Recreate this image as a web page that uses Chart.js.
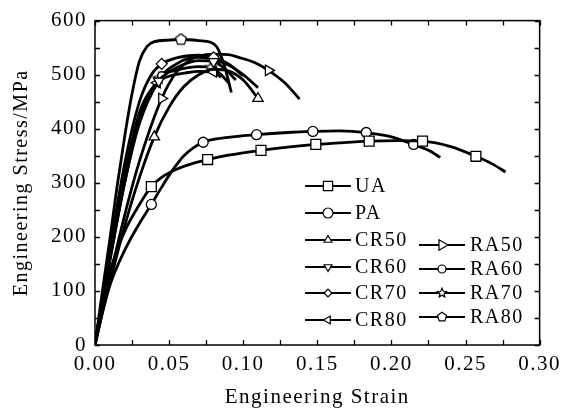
<!DOCTYPE html>
<html>
<head>
<meta charset="utf-8">
<script src="https://cdn.jsdelivr.net/npm/chart.js@4/dist/chart.umd.min.js"></script>
<style>
  html, body { margin: 0; padding: 0; background: #fff; }
  canvas { display: block; }
</style>
</head>
<body>
<canvas id="stressChart" width="565" height="410"></canvas>
<script>
// axis ticks
const strainTicks = [0, 0.05, 0.1, 0.15, 0.2, 0.25, 0.3];
const stressTicks = [0, 100, 200, 300, 400, 500, 600];

// UA
const uaStrain = [0, 0.005, 0.01, 0.02, 0.03, 0.038, 0.045, 0.055, 0.065, 0.076, 0.09, 0.112, 0.13, 0.149, 0.165, 0.185, 0.205, 0.221, 0.24, 0.257, 0.268, 0.277];
const uaStress = [0, 75, 135, 210, 260, 293, 310, 325, 335, 343, 351, 360, 366, 371, 374, 377, 378, 377, 367, 349, 335, 320];
const uaMarks = [0.038, 0.076, 0.112, 0.149, 0.185, 0.221, 0.257];

// PA
const paStrain = [0, 0.005, 0.01, 0.02, 0.03, 0.038, 0.045, 0.052, 0.06, 0.073, 0.09, 0.109, 0.13, 0.147, 0.165, 0.183, 0.2, 0.215, 0.225, 0.233];
const paStress = [0, 60, 110, 175, 225, 260, 292, 322, 350, 375, 384, 389, 393, 395, 396, 393, 385, 371, 360, 347];
const paMarks = [0.038, 0.073, 0.109, 0.147, 0.183, 0.215];

// CR50 .. CR80
const cr50Strain = [0, 0.005, 0.01, 0.02, 0.03, 0.04, 0.05, 0.06, 0.07, 0.08, 0.09, 0.1, 0.11];
const cr50Stress = [0, 60, 115, 220, 310, 385, 440, 478, 500, 510, 507, 490, 456];
const cr50Marks = [0.04, 0.11];

const cr60Strain = [0, 0.005, 0.01, 0.02, 0.03, 0.043, 0.05, 0.063, 0.07, 0.08, 0.088, 0.095];
const cr60Stress = [0, 80, 155, 300, 410, 488, 505, 522, 526, 524, 510, 490];
const cr60Marks = [0.043, 0.08];

const cr70Strain = [0, 0.005, 0.01, 0.02, 0.03, 0.038, 0.045, 0.055, 0.063, 0.07, 0.08, 0.09, 0.1];
const cr70Stress = [0, 90, 175, 335, 450, 500, 520, 531, 535, 536, 532, 520, 498];
const cr70Marks = [0.045, 0.08];

const cr80Strain = [0, 0.005, 0.01, 0.02, 0.03, 0.042, 0.05, 0.063, 0.07, 0.08, 0.085];
const cr80Stress = [0, 85, 165, 315, 430, 485, 497, 504, 506, 505, 495];
const cr80Marks = [0.042, 0.08];

// RA50 .. RA80
const ra50Strain = [0, 0.005, 0.01, 0.02, 0.03, 0.045, 0.055, 0.063, 0.07, 0.08, 0.09, 0.097, 0.108, 0.117, 0.128, 0.138];
const ra50Stress = [0, 65, 125, 240, 340, 456, 505, 525, 534, 538, 537, 532, 522, 508, 485, 455];
const ra50Marks = [0.045, 0.117];

const ra60Strain = [0, 0.005, 0.01, 0.02, 0.03, 0.045, 0.055, 0.063, 0.07, 0.08, 0.09, 0.1, 0.11];
const ra60Stress = [0, 85, 160, 305, 420, 498, 520, 530, 532, 528, 518, 500, 476];
const ra60Marks = [0.045, 0.08];

const ra70Strain = [0, 0.005, 0.01, 0.02, 0.03, 0.043, 0.055, 0.063, 0.07, 0.078, 0.085, 0.09];
const ra70Stress = [0, 82, 158, 300, 415, 493, 508, 513, 515, 513, 500, 485];
const ra70Marks = [0.043, 0.078];

const ra80Strain = [0, 0.005, 0.01, 0.015, 0.02, 0.025, 0.03, 0.035, 0.04, 0.05, 0.058, 0.07, 0.078, 0.082, 0.085, 0.088, 0.092];
const ra80Stress = [0, 100, 195, 295, 385, 465, 525, 552, 561, 564, 565, 563, 560, 552, 535, 510, 467];
const ra80Marks = [0.058];

const FONT = "'Liberation Serif', 'Times New Roman', serif";

// hollow marker shapes the library doesn't have
function shapeCanvas(kind, size) {
  const c = document.createElement("canvas");
  c.width = c.height = size;
  const g = c.getContext("2d");
  const cx = size / 2, cy = size / 2, R = size / 2 - 1.2;
  g.beginPath();
  if (kind === "pentagon") {
    for (let i = 0; i < 5; i++) {
      const a = -Math.PI / 2 + i * 2 * Math.PI / 5;
      g.lineTo(cx + R * Math.cos(a), cy + R * Math.sin(a));
    }
  } else {
    for (let i = 0; i < 10; i++) {
      const a = -Math.PI / 2 + i * Math.PI / 5;
      const r = i % 2 ? R * 0.45 : R;
      g.lineTo(cx + r * Math.cos(a), cy + r * Math.sin(a));
    }
  }
  g.closePath();
  g.fillStyle = "#fff";
  g.fill();
  g.lineWidth = 1.2;
  g.strokeStyle = "#000";
  g.stroke();
  return c;
}

const pentagonBig = shapeCanvas("pentagon", 14);
const pentagonSmall = shapeCanvas("pentagon", 12);
const starBig = shapeCanvas("star", 14);
const starSmall = shapeCanvas("star", 12);

function series(label, xs, ys, marks, style, rot, r, legendStyle, legendR) {
  return {
    label,
    data: xs.map((x, i) => ({ x, y: ys[i] })),
    borderColor: "#000",
    borderWidth: 2.8,
    backgroundColor: "#fff",
    pointBackgroundColor: "#fff",
    pointBorderColor: "#000",
    pointBorderWidth: 1.3,
    pointStyle: style,
    pointRotation: rot,
    pointRadius: (ctx) => (ctx.raw && marks.includes(ctx.raw.x) ? r : 0),
    pointHoverRadius: 0,
    cubicInterpolationMode: "monotone",
    fill: false,
    legendStyle: legendStyle || style,
    legendR: legendR,
  };
}

// legend placement inside the plot (two columns)
const legendRows = [
  { idx: 0, x: 305, y: 186 },
  { idx: 1, x: 305, y: 213 },
  { idx: 2, x: 305, y: 240 },
  { idx: 3, x: 305, y: 267 },
  { idx: 4, x: 305, y: 293 },
  { idx: 5, x: 305, y: 320 },
  { idx: 6, x: 419, y: 245 },
  { idx: 7, x: 419, y: 269 },
  { idx: 8, x: 419, y: 293 },
  { idx: 9, x: 419, y: 317 },
];

const framePlugin = {
  id: "frame",
  beforeDraw(chart) {
    const { ctx, width, height } = chart;
    ctx.save();
    ctx.fillStyle = "#fff";
    ctx.fillRect(0, 0, width, height);
    ctx.restore();
    ctx.letterSpacing = "1.5px";
  },
  afterDraw(chart) {
    const { ctx, chartArea: a, scales } = chart;
    ctx.save();
    ctx.strokeStyle = "#000";
    ctx.lineWidth = 1.5;
    ctx.strokeRect(a.left, a.top, a.right - a.left, a.bottom - a.top);
    ctx.lineWidth = 1.3;
    ctx.beginPath();
    scales.x.ticks.forEach((t) => {
      const px = Math.round(scales.x.getPixelForValue(t.value)) + 0.5;
      ctx.moveTo(px, a.bottom); ctx.lineTo(px, a.bottom - 5);
      ctx.moveTo(px, a.top); ctx.lineTo(px, a.top + 5);
    });
    scales.y.ticks.forEach((t) => {
      const py = Math.round(scales.y.getPixelForValue(t.value)) + 0.5;
      ctx.moveTo(a.left, py); ctx.lineTo(a.left + 5, py);
      ctx.moveTo(a.right, py); ctx.lineTo(a.right - 5, py);
    });
    ctx.stroke();

    // legend
    ctx.font = "20px " + FONT;
    ctx.textBaseline = "middle";
    ctx.textAlign = "left";
    ctx.letterSpacing = "1.5px";
    legendRows.forEach((row) => {
      const ds = chart.data.datasets[row.idx];
      ctx.strokeStyle = "#000";
      ctx.lineWidth = 2;
      ctx.beginPath();
      ctx.moveTo(row.x, row.y);
      ctx.lineTo(row.x + 46, row.y);
      ctx.stroke();
      ctx.fillStyle = "#fff";
      ctx.lineWidth = 1.2;
      Chart.helpers.drawPoint(ctx, {
        pointStyle: ds.legendStyle,
        radius: ds.legendR,
        rotation: ds.pointRotation,
        borderWidth: 1.2,
      }, row.x + 23, row.y);
      ctx.fillStyle = "#000";
      ctx.fillText(ds.label, row.x + (row.idx < 6 ? 50 : 51), row.y + 1);
    });
    ctx.restore();
  },
};

new Chart(document.getElementById("stressChart"), {
  type: "line",
  data: {
    datasets: [
      series("UA", uaStrain, uaStress, uaMarks, "rect", 0, 7, "rect", 6.5),
      series("PA", paStrain, paStress, paMarks, "circle", 0, 5, "circle", 5),
      series("CR50", cr50Strain, cr50Stress, cr50Marks, "triangle", 0, 6, "triangle", 4.5),
      series("CR60", cr60Strain, cr60Stress, cr60Marks, "triangle", 180, 6, "triangle", 4.5),
      series("CR70", cr70Strain, cr70Stress, cr70Marks, "rectRot", 0, 5.5, "rectRot", 4),
      series("CR80", cr80Strain, cr80Stress, cr80Marks, "triangle", -90, 6, "triangle", 4.5),
      series("RA50", ra50Strain, ra50Stress, ra50Marks, "triangle", 90, 6, "triangle", 6),
      series("RA60", ra60Strain, ra60Stress, ra60Marks, "circle", 0, 4, "circle", 4),
      series("RA70", ra70Strain, ra70Stress, ra70Marks, starBig, 0, 6, starSmall, 5),
      series("RA80", ra80Strain, ra80Stress, ra80Marks, pentagonBig, 0, 6, pentagonSmall, 5),
    ],
  },
  options: {
    responsive: false,
    animation: false,
    devicePixelRatio: 1,
    layout: { padding: { left: 0, right: 21, top: 20, bottom: 0 } },
    plugins: {
      legend: { display: false },
      tooltip: { enabled: false },
    },
    scales: {
      x: {
        type: "linear",
        min: strainTicks[0],
        max: strainTicks[strainTicks.length - 1],
        afterFit: (s) => { s.height = 65; },
        grid: { display: false, drawTicks: false },
        border: { display: false },
        ticks: {
          stepSize: 0.025,
          autoSkip: false,
          maxRotation: 0,
          padding: 7,
          color: "#000",
          font: { family: FONT, size: 21 },
          callback: (v) => {
            const hit = strainTicks.find((t) => Math.abs(t - v) < 1e-6);
            return hit !== undefined ? hit.toFixed(2) : "";
          },
        },
        title: {
          display: true,
          text: "Engineering Strain",
          color: "#000",
          font: { family: FONT, size: 21 },
          padding: { top: 0, bottom: 0 },
        },
      },
      y: {
        min: stressTicks[0],
        max: stressTicks[stressTicks.length - 1],
        afterFit: (s) => { s.width = 95; },
        grid: { display: false, drawTicks: false },
        border: { display: false },
        ticks: {
          stepSize: 50,
          autoSkip: false,
          padding: 8,
          color: "#000",
          font: { family: FONT, size: 21 },
          callback: (v) => (stressTicks.includes(v) ? String(v) : ""),
        },
        title: {
          display: true,
          text: "Engineering Stress/MPa",
          color: "#000",
          font: { family: FONT, size: 20 },
          padding: { top: 10, bottom: 0 },
        },
      },
    },
  },
  plugins: [framePlugin],
});
</script>
</body>
</html>
